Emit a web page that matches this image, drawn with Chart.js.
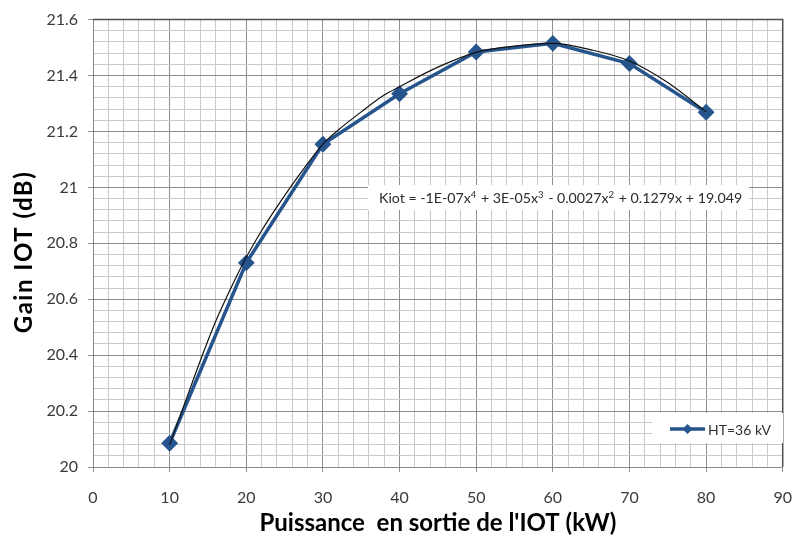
<!DOCTYPE html>
<html lang="fr">
<head>
  <meta charset="UTF-8">
  <title>Gain IOT</title>
  <script src="https://cdn.jsdelivr.net/npm/chart.js"></script>
  <style>
    body {
      margin: 0;
      background: #fff;
    }
    canvas {
      display: block;
    }
  </style>
</head>
<body>
  <canvas id="grafico" width="808" height="543"></canvas>

  <script>
    // valeurs
    const puissance = [10, 20, 30, 40, 50, 60, 70, 80];
    const gain = [20.085, 20.73, 21.154, 21.335, 21.484, 21.515, 21.443, 21.269];

    // courbe de tendance (polynome ordre 4) relevée à l'oeil
    const tendanceX = [10, 12, 14, 16, 18, 20, 22, 24, 26, 28, 30, 32, 35, 38, 40, 45, 50, 55, 60, 65, 70, 75, 80];
    const tendanceY = [20.08, 20.23, 20.38, 20.52, 20.64, 20.75, 20.845, 20.93, 21.01, 21.085, 21.155, 21.205,
                       21.27, 21.33, 21.36, 21.43, 21.483, 21.505, 21.515, 21.492, 21.452, 21.375, 21.27];

    const xLabels = ['0', '10', '20', '30', '40', '50', '60', '70', '80', '90'];
    const yLabels = ['20', '20.2', '20.4', '20.6', '20.8', '21', '21.2', '21.4', '21.6'];

    const serieNom = 'HT=36 kV';
    const equation = [
      ['Kiot = -1E-07x', false], ['4', true], [' + 3E-05x', false], ['3', true],
      [' - 0.0027x', false], ['2', true], [' + 0.1279x + 19.049', false]
    ];

    const bleu = '#26558d';
    const gridMajor = '#8e8e8e';
    const gridMinor = '#c9c9c9';
    const police = 'Lato, "Open Sans", sans-serif';

    const ctx = document.getElementById('grafico').getContext('2d');

    // cadre haut/droite + encadrés (équation, légende)
    const decorPlugin = {
      id: 'decor',
      beforeDatasetsDraw(chart) {
        const { ctx, chartArea: a } = chart;
        ctx.save();
        ctx.strokeStyle = '#505050';
        ctx.lineWidth = 1.5;
        ctx.beginPath();
        ctx.moveTo(a.left, a.top);
        ctx.lineTo(a.right, a.top);
        ctx.lineTo(a.right, a.bottom);
        ctx.stroke();

        // equation
        ctx.fillStyle = '#fff';
        ctx.fillRect(368, 185, 381, 25);
        ctx.fillStyle = '#2b2b2b';
        ctx.textBaseline = 'alphabetic';
        let x = 379;
        for (const [txt, sup] of equation) {
          ctx.font = (sup ? '9.5px ' : '14.2px ') + police;
          ctx.fillText(txt, x, sup ? 198 : 203);
          x += ctx.measureText(txt).width + (sup ? 1 : 0);
        }

        // legende
        ctx.fillStyle = '#fff';
        ctx.fillRect(652, 413, 131, 30);
        ctx.strokeStyle = bleu;
        ctx.lineWidth = 3.5;
        ctx.beginPath();
        ctx.moveTo(670, 429);
        ctx.lineTo(705, 429);
        ctx.stroke();
        ctx.fillStyle = bleu;
        ctx.beginPath();
        ctx.moveTo(687.5, 424);
        ctx.lineTo(692.5, 429);
        ctx.lineTo(687.5, 434);
        ctx.lineTo(682.5, 429);
        ctx.closePath();
        ctx.fill();
        ctx.fillStyle = '#333';
        ctx.font = '14px ' + police;
        ctx.textBaseline = 'middle';
        ctx.fillText(serieNom, 708, 430);

        // titre axe Y
        ctx.translate(24, 252);
        ctx.rotate(-Math.PI / 2);
        ctx.fillStyle = '#000';
        ctx.font = 'bold 24px ' + police;
        ctx.letterSpacing = '1.5px';
        ctx.textAlign = 'center';
        ctx.fillText('Gain IOT (dB)', 0, 0);
        ctx.restore();
      }
    };

    const grafico = new Chart(ctx, {
      type: 'line',
      data: {
        datasets: [
          {
            label: 'Tendance',
            data: tendanceX.map((x, i) => ({ x, y: tendanceY[i] })),
            borderColor: '#111',
            borderWidth: 1.2,
            pointRadius: 0,
            cubicInterpolationMode: 'monotone',
            order: 0
          },
          {
            label: serieNom,
            data: puissance.map((x, i) => ({ x, y: gain[i] })),
            borderColor: bleu,
            backgroundColor: bleu,
            borderWidth: 3.5,
            pointStyle: 'rectRot',
            pointRadius: 6,
            pointBackgroundColor: bleu,
            pointBorderColor: bleu,
            tension: 0,
            order: 1
          }
        ]
      },
      options: {
        responsive: false,
        animation: false,
        layout: { padding: { left: 0, top: 16, right: 12, bottom: 0 } },
        plugins: {
          legend: { display: false },
          tooltip: { enabled: false }
        },
        scales: {
          x: {
            type: 'linear',
            min: 0,
            max: 90,
            afterBuildTicks(scale) {
              const t = [];
              for (let i = 0; i <= 45; i++) t.push({ value: i * 2 });
              scale.ticks = t;
            },
            afterFit(scale) { scale.height = 76; },
            ticks: {
              autoSkip: false,
              maxRotation: 0,
              padding: 16,
              color: '#3a3a3a',
              font: { family: police, size: 16 },
              callback: (v, i) => (i % 5 === 0 ? xLabels[i / 5] : '')
            },
            grid: {
              color: c => (c.index % 5 === 0 ? gridMajor : gridMinor),
              lineWidth: 1,
              tickLength: 5,
              tickColor: c => (c.index % 5 === 0 ? gridMajor : 'transparent')
            },
            border: { color: '#888', width: 1 },
            title: {
              display: true,
              text: "Puissance  en sortie de l'IOT (kW)",
              color: '#000',
              font: { family: police, size: 24, weight: 'bold' },
              padding: { top: 0, bottom: 5 }
            }
          },
          y: {
            min: 20,
            max: 21.6,
            afterBuildTicks(scale) {
              const t = [];
              for (let i = 0; i <= 40; i++) t.push({ value: Math.round((20 + i * 0.04) * 100) / 100 });
              scale.ticks = t;
            },
            afterFit(scale) { scale.width = 93; },
            ticks: {
              autoSkip: false,
              padding: 10,
              color: '#3a3a3a',
              font: { family: police, size: 16 },
              callback: (v, i) => (i % 5 === 0 ? yLabels[i / 5] : '')
            },
            grid: {
              color: c => (c.index % 5 === 0 ? gridMajor : gridMinor),
              lineWidth: 1,
              tickLength: 5,
              tickColor: c => (c.index % 5 === 0 ? gridMajor : 'transparent')
            },
            border: { color: '#888', width: 1 }
          }
        }
      },
      plugins: [decorPlugin]
    });
  </script>
</body>
</html>
